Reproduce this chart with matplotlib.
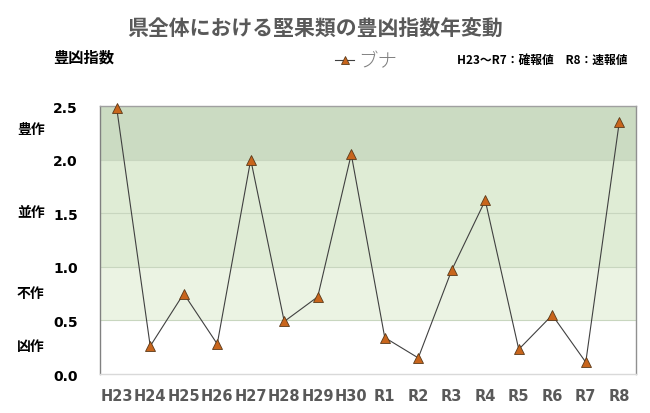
import matplotlib
matplotlib.use("Agg")
import matplotlib.pyplot as plt
from matplotlib.lines import Line2D

plt.rcParams['font.family'] = ['Noto Sans CJK JP', 'DejaVu Sans']

categories = ["H23", "H24", "H25", "H26", "H27", "H28", "H29", "H30",
              "R1", "R2", "R3", "R4", "R5", "R6", "R7", "R8"]
buna = [2.48, 0.26, 0.75, 0.28, 2.00, 0.49, 0.72, 2.05,
        0.34, 0.15, 0.97, 1.62, 0.23, 0.55, 0.11, 2.35]
yticks = [0.0, 0.5, 1.0, 1.5, 2.0, 2.5]
ytick_labels = ["0.0", "0.5", "1.0", "1.5", "2.0", "2.5"]
bands = [(0.5, 1.0, "#ebf3e3"), (1.0, 2.0, "#dfecd5"), (2.0, 2.5, "#cbdbc2")]
class_labels = ["豊作", "並作", "不作", "凶作"]
class_levels = [2.29, 1.51, 0.76, 0.26]

fig = plt.figure(figsize=(6.5, 4.14), dpi=100)
ax = fig.add_axes([0.1538, 0.0942, 0.8247, 0.6473])

x = list(range(len(categories)))
for lo, hi, c in bands:
    ax.axhspan(lo, hi, color=c, lw=0, zorder=0)
for yv in [0.5, 1.0, 1.5, 2.0]:
    ax.axhline(yv, color="#c8d6bf", lw=0.8, zorder=1)

ax.plot(x, buna, color="#404040", lw=0.8, marker="^", markersize=7,
        markerfacecolor="#c8651c", markeredgecolor="#5a3a1a", markeredgewidth=0.6, zorder=3,
        clip_on=False)

ax.set_xlim(-0.5, len(categories) - 0.5)
ax.set_ylim(0, 2.5)
ax.set_yticks(yticks)
ax.set_yticklabels(ytick_labels, family="DejaVu Sans", fontweight="bold", fontsize=10, color="#000000")
ax.set_xticks(x)
ax.set_xticklabels(categories, family="DejaVu Sans", fontweight="bold", fontsize=10.5, color="#595959")
ax.tick_params(axis="x", length=0, pad=10)
ax.tick_params(axis="y", length=0, pad=16)

ax.spines["left"].set_color("#808080")
ax.spines["right"].set_color("#909090")
ax.spines["top"].set_color("#a0a0a0")
ax.spines["bottom"].set_color("#d9d9d9")
for s in ax.spines.values():
    s.set_linewidth(1.0)

for lab, lev in zip(class_labels, class_levels):
    ax.text(-0.155, lev, lab, transform=ax.get_yaxis_transform(), ha="left", va="center",
            fontsize=10, fontweight="bold", color="#000000")

fig.text(0.484, 0.932, "県全体における堅果類の豊凶指数年変動", ha="center", va="center",
         fontsize=15, fontweight="bold", color="#595959")
fig.text(0.082, 0.862, "豊凶指数", ha="left", va="center", fontsize=11, fontweight="bold", color="#000000")
fig.text(0.966, 0.853, "H23～R7：確報値　R8：速報値", ha="right", va="center", fontsize=8.5,
         fontweight="bold", color="#000000")

handle = Line2D([0], [0], color="#404040", lw=0.8, marker="^", markersize=6,
                markerfacecolor="#c8651c", markeredgecolor="#5a3a1a", markeredgewidth=0.6)
fig.legend([handle], ["ブナ"], loc="center", bbox_to_anchor=(0.563, 0.85), frameon=False,
           handlelength=1.0, handletextpad=0.2, prop={"size": 14, "weight": "light"},
           labelcolor="#7f7f7f")

fig.savefig("out.png", dpi=100)
